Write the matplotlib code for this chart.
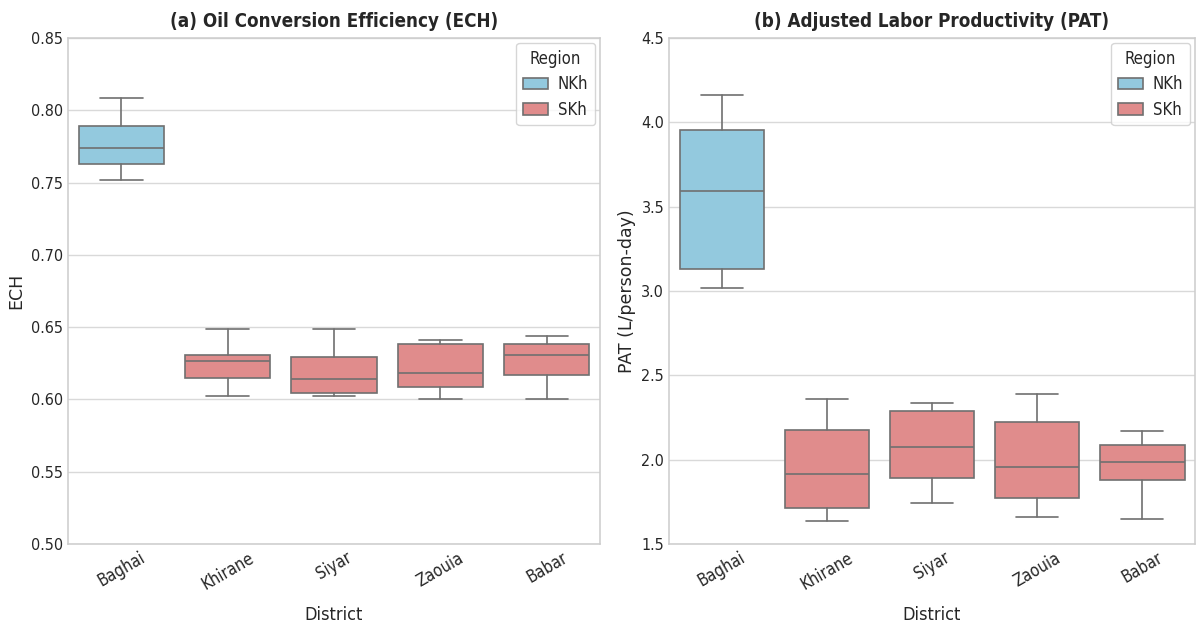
import matplotlib

matplotlib.use("Agg")
import matplotlib.pyplot as plt
import seaborn as sns
from matplotlib.patches import Patch

DISTRICTS = ["Baghai", "Khirane", "Siyar", "Zaouia", "Babar"]
REGIONS = ["NKh", "SKh", "SKh", "SKh", "SKh"]

# box stats: whisker low, q1, median, q3, whisker high
ECH_LOW = [0.752, 0.6027, 0.6022, 0.6001, 0.6006]
ECH_Q1 = [0.763, 0.6150, 0.6042, 0.6086, 0.6167]
ECH_MED = [0.774, 0.6264, 0.6143, 0.6185, 0.6307]
ECH_Q3 = [0.789, 0.6307, 0.6293, 0.6381, 0.6385]
ECH_HIGH = [0.8085, 0.6485, 0.6485, 0.6411, 0.6439]

PAT_LOW = [3.018, 1.634, 1.745, 1.658, 1.646]
PAT_Q1 = [3.130, 1.713, 1.891, 1.775, 1.881]
PAT_MED = [3.593, 1.917, 2.073, 1.957, 1.984]
PAT_Q3 = [3.955, 2.174, 2.290, 2.223, 2.085]
PAT_HIGH = [4.162, 2.358, 2.336, 2.387, 2.168]

REGION_COLORS = {"NKh": "#93C9DE", "SKh": "#E08C8C"}
LINE = "#707070"
INK = "#262626"


def box_stats(low, q1, med, q3, high):
    return [
        {"whislo": lo, "q1": a, "med": m, "q3": b, "whishi": hi, "fliers": [], "label": name}
        for name, lo, a, m, b, hi in zip(DISTRICTS, low, q1, med, q3, high)
    ]


def draw_panel(ax, stats, title, ylabel, ylim, yticks):
    boxes = ax.bxp(
        stats,
        positions=range(len(stats)),
        widths=0.8,
        patch_artist=True,
        showfliers=False,
        boxprops={"edgecolor": LINE, "linewidth": 1.2},
        medianprops={"color": LINE, "linewidth": 1.2},
        whiskerprops={"color": LINE, "linewidth": 1.2},
        capprops={"color": LINE, "linewidth": 1.2},
        capwidths=0.4,
    )
    for patch, region in zip(boxes["boxes"], REGIONS):
        patch.set_facecolor(REGION_COLORS[region])

    ax.set_xlim(-0.5, len(stats) - 0.5)
    ax.set_ylim(*ylim)
    ax.set_yticks(yticks)
    ax.set_xticks(range(len(stats)))
    ax.set_xticklabels(DISTRICTS, rotation=30, fontsize=12)
    ax.grid(axis="y", color="#d9d9d9", linewidth=1.0)
    ax.grid(axis="x", visible=False)
    ax.set_axisbelow(True)
    ax.tick_params(length=0, colors=INK)
    ax.tick_params(axis="y", labelsize=11.5)
    for spine in ax.spines.values():
        spine.set_color("#cccccc")
        spine.set_linewidth(1.1)

    ax.set_title(title, fontsize=13.5, fontweight="bold", color=INK, pad=8)
    ax.set_xlabel("District", fontsize=13, color=INK, labelpad=9)
    ax.set_ylabel(ylabel, fontsize=12.5, color=INK, fontstretch="normal")

    handles = [Patch(facecolor=REGION_COLORS[r], edgecolor=LINE, linewidth=1.2, label=r) for r in ["NKh", "SKh"]]
    leg = ax.legend(
        handles=handles,
        title="Region",
        loc="upper right",
        fontsize=12,
        title_fontsize=12,
        frameon=True,
        borderaxespad=0.3,
        labelspacing=0.45,
        handlelength=1.5,
        handletextpad=0.6,
    )
    leg.get_frame().set_edgecolor("#cccccc")


sns.set_style("whitegrid")
plt.rcParams["font.family"] = ["DejaVu Sans"]
plt.rcParams["font.stretch"] = "condensed"

fig = plt.figure(figsize=(11.96, 6.25), dpi=100)
ax_a = fig.add_axes([0.0569, 0.1296, 0.4448, 0.8096])
ax_b = fig.add_axes([0.5594, 0.1296, 0.4398, 0.8096])

draw_panel(
    ax_a,
    box_stats(ECH_LOW, ECH_Q1, ECH_MED, ECH_Q3, ECH_HIGH),
    "(a) Oil Conversion Efficiency (ECH)",
    "ECH",
    (0.50, 0.85),
    [0.50, 0.55, 0.60, 0.65, 0.70, 0.75, 0.80, 0.85],
)
draw_panel(
    ax_b,
    box_stats(PAT_LOW, PAT_Q1, PAT_MED, PAT_Q3, PAT_HIGH),
    "(b) Adjusted Labor Productivity (PAT)",
    "PAT (L/person-day)",
    (1.5, 4.5),
    [1.5, 2.0, 2.5, 3.0, 3.5, 4.0, 4.5],
)

fig.savefig("out.png", dpi=100)
plt.close(fig)
